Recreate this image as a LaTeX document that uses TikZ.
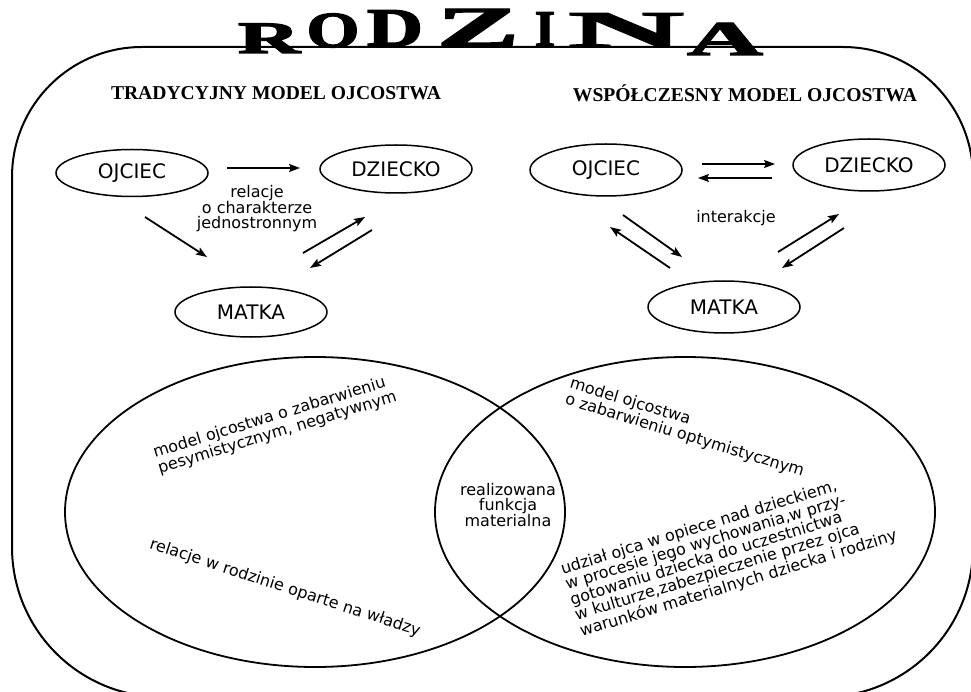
\documentclass[tikz,border=0pt]{standalone}
\usepackage{fontspec}
\usepackage{graphicx}
\setmainfont{DejaVu Sans}
\newfontfamily\seriffam{Liberation Serif}
\newfontfamily\titlefam{Liberation Serif}[BoldFeatures={FakeBold=2.5}]
\usetikzlibrary{shapes.geometric,arrows.meta}
\tikzset{
 frame/.style={line width=2pt},
 oval/.style={draw, ellipse, line width=1.5pt, inner sep=0pt, minimum width=152pt, minimum height=50pt, font=\fontsize{20}{24}\selectfont},
 venn/.style={draw, ellipse, line width=1.8pt, inner sep=0pt, minimum width=500pt, minimum height=310pt},
 arr/.style={line width=1.8pt, -{Stealth[length=11pt,width=8pt,inset=2pt]}},
 lbl/.style={font=\fontsize{16}{15.5}\selectfont, inner sep=0pt, align=center},
 blk/.style={font=\fontsize{16}{16.5}\selectfont, inner sep=0pt, align=left},
 head/.style={font=\seriffam\bfseries\fontsize{19.6}{22}\selectfont, inner sep=0pt, anchor=base},
 ttl/.style={font=\titlefam\bfseries\fontsize{50}{50}\selectfont, inner sep=0pt, anchor=base},
}
\begin{document}
\begin{tikzpicture}[x=1pt,y=-1pt]
\useasboundingbox (0,0) rectangle (971,692);
\clip (0,0) rectangle (971,692);
\fill[white] (0,0) rectangle (971,692);
% outer frame
\draw[frame] (12,400) [rounded corners=130pt] -- (12,47) -- (973,47) [rounded corners=150pt] -- (973,697) -- (12,697) -- cycle;
% title
\node[ttl] (tR) at (269,53) {\scalebox{1.72}[0.9]{R}};
\node[ttl] (tO) at (333,47) {\scalebox{1.36}[1.01]{O}};
\node[ttl] (tD) at (395,46) {\scalebox{1.55}[1.09]{D}};
\node[ttl] (tZ) at (478,46) {\scalebox{2.45}[1.13]{Z}};
\node[ttl] (tI) at (545,46) {\scalebox{1.05}[1.03]{I}};
\node[ttl] (tN) at (626,47) {\scalebox{3.2}[1.03]{N}};
\node[ttl] (tA) at (725,55) {\scalebox{2.1}[0.97]{A}};
% headings
\node[head] (h1) at (276,100) {TRADYCYJNY MODEL OJCOSTWA};
\node[head] (h2) at (745,102) {WSPÓŁCZESNY MODEL OJCOSTWA};
% left triangle
\node[oval, minimum height=47pt] (lo) at (132,173) {OJCIEC};
\node[oval, minimum height=48pt] (ld) at (396,169) {DZIECKO};
\node[oval] (lm) at (251,312) {MATKA};
\coordinate (a1s) at (227,168); \coordinate (a1e) at (300,168);
\coordinate (a2s) at (145,217); \coordinate (a2e) at (207,257);
\coordinate (a3s) at (303,253); \coordinate (a3e) at (365,217);
\coordinate (a4s) at (372,230); \coordinate (a4e) at (310,268);
\draw[arr] (a1s) -- (a1e);
\draw[arr] (a2s) -- (a2e);
\draw[arr] (a3s) -- (a3e);
\draw[arr] (a4s) -- (a4e);
\node[lbl] (rel) at (257,209) {relacje\\o charakterze\\jednostronnym};
% right triangle
\node[oval, minimum height=52pt] (ro) at (606,170) {OJCIEC};
\node[oval, minimum height=52pt] (rd) at (869,165) {DZIECKO};
\node[oval, minimum height=52pt] (rm) at (724,307) {MATKA};
\coordinate (b1s) at (702,164); \coordinate (b1e) at (775,164);
\coordinate (b2s) at (772,178); \coordinate (b2e) at (698,178);
\coordinate (b3s) at (623,215); \coordinate (b3e) at (682,257);
\coordinate (b4s) at (670,268); \coordinate (b4e) at (610,227);
\coordinate (b5s) at (778,252); \coordinate (b5e) at (839,214);
\coordinate (b6s) at (844,228); \coordinate (b6e) at (782,268);
\draw[arr] (b1s) -- (b1e);
\draw[arr] (b2s) -- (b2e);
\draw[arr] (b3s) -- (b3e);
\draw[arr] (b4s) -- (b4e);
\draw[arr] (b5s) -- (b5e);
\draw[arr] (b6s) -- (b6e);
\node[lbl] (inter) at (736,218) {interakcje};
% venn
\node[venn] (vl) at (315,512) {};
\node[venn] (vr) at (685,512) {};
\node[lbl, font=\fontsize{16}{15}\selectfont] (mid) at (508,505) {realizowana\\funkcja\\materialna};
\node[blk, rotate=17] (t1) at (275,425) {model ojcostwa o zabarwieniu\\pesymistycznym, negatywnym};
\node[blk, rotate=-18] (t2) at (285,588) {relacje w rodzinie oparte na władzy};
\node[blk, rotate=-17] (t3) at (687,428) {model ojcostwa\\o zabarwieniu optymistycznym};
\node[blk, rotate=17, font=\fontsize{16}{16}\selectfont] (t4) at (729,553) {udział ojca w opiece nad dzieckiem,\\w procesie jego wychowania,w przy-\\gotowaniu dziecka do uczestnictwa\\w kulturze,zabezpieczenie przez ojca\\warunków materialnych dziecka i rodziny};
\end{tikzpicture}
\end{document}
